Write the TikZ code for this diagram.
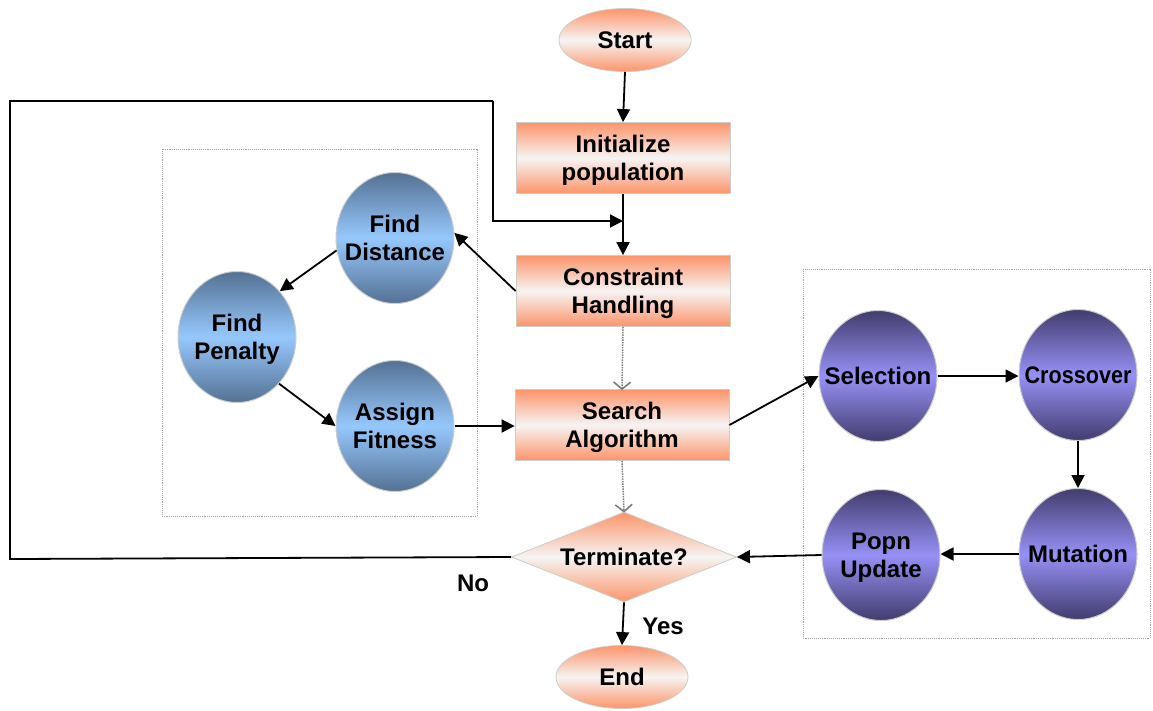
\documentclass[tikz,border=0pt]{standalone}
\usepackage{fontspec}
\setmainfont{Liberation Sans}
\usetikzlibrary{shapes.geometric,arrows.meta}
\definecolor{org}{RGB}{252,148,105}
\definecolor{owhite}{RGB}{246,244,243}
\definecolor{bdark}{RGB}{84,113,148}
\definecolor{blight}{RGB}{150,200,252}
\definecolor{pdark}{RGB}{66,60,110}
\definecolor{plight}{RGB}{150,145,245}
\definecolor{edgegray}{RGB}{205,205,205}
\definecolor{dotgray}{RGB}{125,125,125}
\newcommand{\ztext}[1]{\makebox[0pt]{\begin{tabular}{@{}c@{}}\noalign{\vskip 6pt}#1\end{tabular}}}
\begin{document}
\begin{tikzpicture}[x=1pt,y=-1pt,
  font=\fontsize{24}{28}\selectfont\bfseries,
  orangebox/.style={rectangle, draw=edgegray, line width=0.8pt, top color=org, bottom color=org, middle color=owhite, minimum width=214pt, minimum height=71pt, inner sep=0pt},
  term/.style={ellipse, draw=edgegray, line width=0.8pt, top color=org, bottom color=org, middle color=owhite, minimum width=132pt, minimum height=63pt, inner sep=0pt},
  decision/.style={diamond, aspect=2.5, draw=edgegray, line width=0.8pt, top color=org, bottom color=org, middle color=owhite, minimum width=225pt, minimum height=90pt, inner sep=0pt},
  bluecirc/.style={ellipse, draw=edgegray, line width=1pt, top color=bdark, bottom color=bdark, middle color=blight, minimum width=118pt, minimum height=131pt, inner sep=0pt},
  purplecirc/.style={ellipse, draw=edgegray, line width=1pt, top color=pdark, bottom color=pdark, middle color=plight, minimum width=118pt, minimum height=131pt, inner sep=0pt},
  arr/.style={line width=1.8pt, -{Triangle[length=13pt,width=13pt]}},
  dotarr/.style={dotgray, line width=1.5pt, densely dotted, -{Straight Barb[length=7pt,width=17pt,line width=1.6pt]}},
  groupbox/.style={draw=dotgray!70, line width=0.9pt, densely dotted},
  loopline/.style={line width=1.8pt}
]
\useasboundingbox (0,0) rectangle (1153,710);

% group boxes
\draw[groupbox] (162,149) rectangle (477,516);
\draw[groupbox] (803,269) rectangle (1150,638);

% main column
\node[term] (start) at (625,40) {\ztext{Start}};
\node[orangebox] (init) at (623,158) {\ztext{Initialize\\population}};
\node[orangebox] (ch) at (623,291) {\ztext{Constraint\\Handling}};
\node[orangebox] (sa) at (622,425) {\ztext{Search\\Algorithm}};
\node[decision] (tm) at (624,557) {\ztext{Terminate?}};
\node[term] (end) at (622,677) {\ztext{End}};

% left circles
\node[bluecirc] (fd) at (395,238) {\ztext{Find\\Distance}};
\node[bluecirc] (fp) at (237,337) {\ztext{Find\\Penalty}};
\node[bluecirc] (af) at (395,426) {\ztext{Assign\\Fitness}};

% right circles
\node[purplecirc] (sel) at (878,376) {\ztext{Selection}};
\node[purplecirc] (cr) at (1078,375) {\ztext{\scalebox{0.9}[1]{Crossover}}};
\node[purplecirc] (mu) at (1078,554) {\ztext{Mutation}};
\node[purplecirc] (pu) at (881,555) {\ztext{Popn\\Update}};

% labels
\node (yes) at (663,626) {Yes};
\node (no) at (473,583) {No};

% coordinates for feedback loop
\coordinate (c1) at (10,559);
\coordinate (c2) at (493,101);
\coordinate (join) at (623,221);

% connectors
\draw[arr] (start.south) -- (init.north);
\draw[arr] (init.south) -- (ch.north);
\draw[loopline] (tm.west) -- (c1) |- (c2);
\draw[arr] (c2) |- (join);
\draw[arr] (ch.west) -- (fd.5);
\draw[arr] (fd.192) -- (fp.47);
\draw[arr] (fp.-48) -- (af.west);
\draw[arr] (af.east) -- (sa.west |- af.east);
\draw[arr] (sa.east) -- (sel.west);
\draw[arr] (sel.east) -- (cr.west |- sel.east);
\draw[arr] (cr.south) -- (mu.north);
\draw[arr] (mu.west) -- (pu.east |- mu.west);
\draw[arr] (pu.west) -- (tm.east);
\draw[arr] (tm.south) -- (end.north);
\draw[dotarr] (ch.south) -- ([yshift=-1pt]sa.north);
\draw[dotarr] (sa.south) -- ([yshift=-1pt]tm.north);
\end{tikzpicture}
\end{document}
